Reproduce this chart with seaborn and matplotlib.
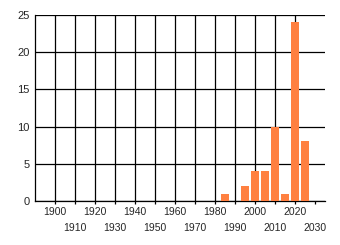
import matplotlib
matplotlib.use("Agg")
import matplotlib.pyplot as plt
import seaborn as sns
import pandas as pd

years = [1985, 1995, 2000, 2005, 2010, 2015, 2020, 2025]
counts = [1, 2, 4, 4, 10, 1, 24, 8]
major_ticks = [1900, 1920, 1940, 1960, 1980, 2000, 2020]
minor_ticks = [1910, 1930, 1950, 1970, 1990, 2010, 2030]
grid_years = [1900, 1910, 1920, 1930, 1940, 1950, 1960, 1970, 1980, 1990, 2000, 2010, 2020]
y_ticks = [0, 5, 10, 15, 20, 25]

sns.set_style("white")
plt.rcParams['font.family'] = ['Liberation Sans', 'DejaVu Sans']

df = pd.DataFrame({"year": years, "count": counts})

fig = plt.figure(figsize=(3.4, 2.45), dpi=100)
ax = fig.add_axes([35/340, 1-201/245, 290/340, 186/245])

for y in y_ticks:
    ax.axhline(y, color="black", lw=0.9, zorder=1)
ax.vlines(grid_years, 0, 25, color="black", lw=0.9, zorder=1)

sns.barplot(data=df, x="year", y="count", native_scale=True, color="#ff8040",
            saturation=1, width=0.8, ax=ax, zorder=3, edgecolor="none")

ax.set_xlim(1890, 2035)
ax.set_ylim(0, 25)
ax.set_xlabel("")
ax.set_ylabel("")

ax.set_xticks(major_ticks)
ax.set_xticklabels([str(v) for v in major_ticks])
ax.set_xticks(minor_ticks, minor=True)
ax.set_xticklabels([str(v) for v in minor_ticks], minor=True)
ax.tick_params(axis="x", which="major", length=2.5, width=0.9, color="black",
               pad=2, labelsize=7.5, direction="out", bottom=True)
ax.tick_params(axis="x", which="minor", length=2.5, width=0.9, color="black",
               pad=13.5, labelsize=7.5, direction="out", bottom=True)
ax.set_yticks(y_ticks)
ax.set_yticklabels([str(v) for v in y_ticks])
ax.tick_params(axis="y", length=0, pad=4, labelsize=8)

for side in ["top", "right"]:
    ax.spines[side].set_visible(False)
for side in ["left", "bottom"]:
    ax.spines[side].set_color("black")
    ax.spines[side].set_linewidth(0.9)

fig.savefig("out.png", dpi=100)
